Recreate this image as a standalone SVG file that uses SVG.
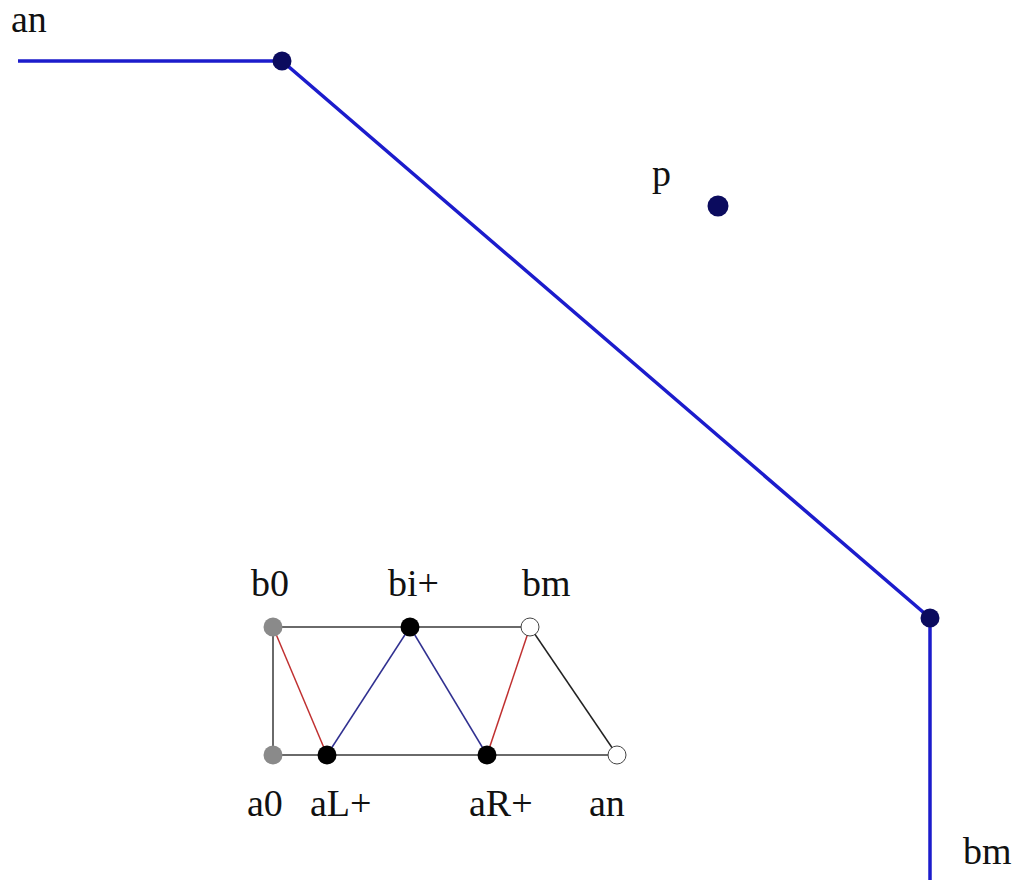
<svg xmlns="http://www.w3.org/2000/svg" width="1012" height="884" viewBox="0 0 1012 884">
<style>
text{font-family:"Liberation Serif",serif;font-size:38px;fill:#111}
.main{stroke:#1c1ccc;stroke-width:3.5;fill:none}
.dot{fill:#0b0b5e}
.g{stroke:#6a6a6a;stroke-width:2;fill:none}
.r{stroke:#c03030;stroke-width:1.5;fill:none}
.b{stroke:#303090;stroke-width:1.5;fill:none}
.k{stroke:#222;stroke-width:1.5;fill:none}
.gray{fill:#8a8a8a}
.blk{fill:#000}
.hol{fill:#fff;stroke:#444;stroke-width:1}
</style>
<rect width="1012" height="884" fill="#fff"/>
<g id="connectors">
<polyline class="main" points="18,61 282,61 930,618 930,880"/>
<line class="g" x1="273" y1="627" x2="530" y2="627"/>
<line class="g" x1="273" y1="755" x2="617" y2="755"/>
<line class="g" x1="273" y1="627" x2="273" y2="755"/>
<line class="r" x1="273" y1="627" x2="327" y2="755"/>
<line class="b" x1="327" y1="755" x2="410" y2="627"/>
<line class="b" x1="410" y1="627" x2="487" y2="755"/>
<line class="r" x1="487" y1="755" x2="530" y2="627"/>
<line class="k" x1="530" y1="627" x2="617" y2="755"/>
</g>
<g id="node-top"><circle class="dot" cx="282" cy="61" r="9.5"/></g>
<g id="node-bottom"><circle class="dot" cx="930" cy="618" r="9.5"/></g>
<g id="node-p"><circle class="dot" cx="718" cy="206" r="10.5"/><text x="652" y="186">p</text></g>
<g id="label-an-top"><text x="11" y="32">an</text></g>
<g id="label-bm-bottom"><text x="963" y="864">bm</text></g>
<g id="node-b0"><circle class="gray" cx="273" cy="627" r="9.5"/><text x="251" y="596">b0</text></g>
<g id="node-bi"><circle class="blk" cx="410" cy="627" r="9.5"/><text x="388" y="596">bi+</text></g>
<g id="node-bm"><circle class="hol" cx="530" cy="627" r="9"/><text x="522" y="596">bm</text></g>
<g id="node-a0"><circle class="gray" cx="273" cy="755" r="9.5"/><text x="247" y="816">a0</text></g>
<g id="node-aL"><circle class="blk" cx="327" cy="755" r="9.5"/><text x="310" y="816">aL+</text></g>
<g id="node-aR"><circle class="blk" cx="487" cy="755" r="9.5"/><text x="469" y="816">aR+</text></g>
<g id="node-an"><circle class="hol" cx="617" cy="755" r="9"/><text x="589" y="816">an</text></g>
</svg>
